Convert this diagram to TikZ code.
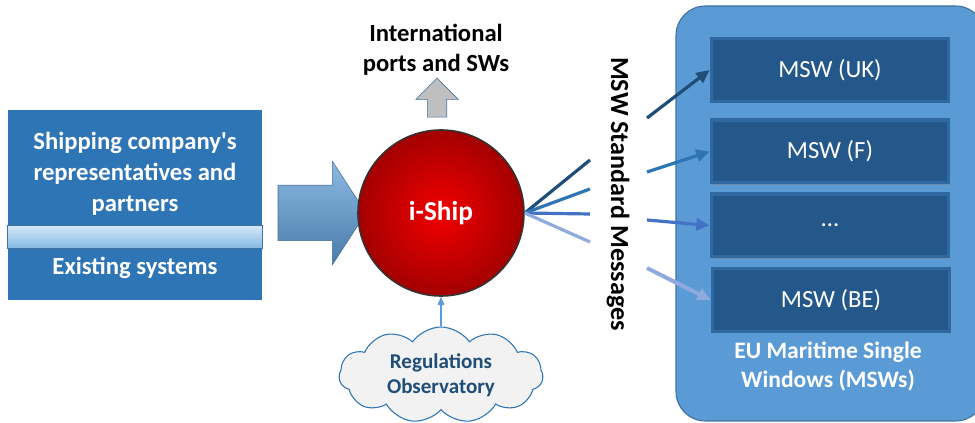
\documentclass[tikz,border=0pt]{standalone}
\usepackage{fontspec}
\setmainfont{Carlito}
\usetikzlibrary{positioning,arrows.meta,shapes.arrows,shapes.symbols,shadows}

\definecolor{partblue}{HTML}{2E75B6}
\definecolor{arrblue}{HTML}{5B9BD5}
\definecolor{edgeblue}{HTML}{41719C}
\definecolor{mswfill}{HTML}{24578A}
\definecolor{mswedge}{HTML}{2F69A0}
\definecolor{shipred}{HTML}{C00000}
\definecolor{navy}{HTML}{1F4E79}
\definecolor{barlight}{HTML}{D5E9F8}
\definecolor{bardark}{HTML}{86B9E3}
\definecolor{lnone}{HTML}{1F4E79}
\definecolor{lntwo}{HTML}{2E75B6}
\definecolor{lnthree}{HTML}{4472C4}
\definecolor{lnfour}{HTML}{8FAADC}

\begin{document}
\begin{tikzpicture}[
  x=0.75pt, y=-0.75pt,
  >={Triangle[length=10pt,width=9pt]},
  every node/.style={font=\bfseries\fontsize{18.5pt}{23.25pt}\selectfont},
  whitetext/.style={text=white, align=center},
  mswbox/.style={rectangle, fill=mswfill, draw=mswedge, line width=2.5pt,
    minimum width=178pt, minimum height=47pt, text=white,
    font=\fontsize{18.5pt}{22pt}\selectfont,
    drop shadow={opacity=0.45, shadow xshift=0pt, shadow yshift=-1.5pt}},
  msgline/.style={line width=2.4pt},
  msgarrow/.style={->, line width=2.4pt}
]
\useasboundingbox (0,0) rectangle (975,423);

% Shipping company box with bar
\fill[partblue] (8,110) rectangle (262,300);
\node[whitetext] (partners) at (135,174) {Shipping company\textquotesingle s\\representatives and\\partners};
\node[rectangle, minimum width=191pt, minimum height=17pt, inner sep=0pt,
  top color=barlight, bottom color=bardark, draw=edgeblue]
  (bar) at (135,236.5) {};
\node[whitetext] (existing) at (135,268) {Existing systems};

% Big arrow into i-Ship
\node[single arrow, single arrow head extend=18pt, single arrow tip angle=114,
  minimum height=66pt, inner xsep=0pt, inner ysep=20.6pt,
  top color=arrblue!70!white, bottom color=arrblue!80!black, draw=edgeblue]
  (bigarrow) at (313,213) {};

% i-Ship circle
\node[circle, minimum size=124.5pt, inner color=red!80!shipred, outer color=shipred!85!black,
  draw=black!80, line width=1.2pt, whitetext,
  font=\bfseries\fontsize{20.5pt}{24pt}\selectfont] (iship) at (441,213) {i-Ship};

% Output to international ports
\node[single arrow, rotate=90, single arrow head extend=8.6pt, minimum height=29.25pt,
  inner xsep=0pt, inner ysep=7.1pt, fill=black!25, draw=edgeblue] (uparrow) at (437,102.5) {};
\node[align=center, font=\bfseries\fontsize{18.5pt}{22.5pt}\selectfont] (intl) at (436,50) {International\\ports and SWs};

% Regulations cloud
\node[cloud, cloud puffs=11, cloud puff arc=110, aspect=2.3, minimum width=153pt,
  minimum height=66pt, fill=black!5, draw=partblue, line width=0.8pt, text=navy,
  align=center, font=\bfseries\fontsize{15.8pt}{19pt}\selectfont] (cloud) at (441,375)
  {Regulations\\Observatory};
\draw[->, >={Triangle[length=6pt,width=5pt]}, arrblue, line width=0.8pt] (cloud.north) -- (iship.south);

% Message label
\node[rotate=-90, font=\bfseries\fontsize{19.6pt}{22pt}\selectfont] (msgs) at (618,194) {MSW Standard Messages};

% EU maritime single windows
\node[rectangle, rounded corners=22pt, fill=arrblue, draw=edgeblue, line width=0.8pt,
  minimum width=231.75pt, minimum height=311.25pt] (euwin) at (830.5,213.5) {};
\node[mswbox] (uk) at (830,70) {MSW (UK)};
\node[mswbox] (fr) at (830,151.5) {MSW (F)};
\node[mswbox] (dots) at (830,225.5) {...};
\node[mswbox] (be) at (831,300) {MSW (BE)};
\node[whitetext, font=\bfseries\fontsize{17.7pt}{21.75pt}\selectfont] (eulabel) at (828,366)
  {EU Maritime Single\\Windows (MSWs)};

% Messages from i-Ship
\coordinate (m1a) at (590,160);
\coordinate (m2a) at (590,189);
\coordinate (m3a) at (590,214);
\coordinate (m4a) at (590,242);
\coordinate (m1b) at (647,118);
\coordinate (m2b) at (647,172);
\coordinate (m3b) at (647,220);
\coordinate (m4b) at (647,268);
\draw[msgline, lnone] (iship.east) -- (m1a);
\draw[msgline, lntwo] (iship.east) -- (m2a);
\draw[msgline, lnthree] (iship.east) -- (m3a);
\draw[msgline, lnfour] (iship.east) -- (m4a);
\draw[msgarrow, lnone] (m1b) -- (uk.west);
\draw[msgarrow, lntwo] (m2b) -- (fr.west);
\draw[msgarrow, lnthree] (m3b) -- (dots.west);
\draw[msgarrow, lnfour, line width=3pt] (m4b) -- (be.west);

\end{tikzpicture}
\end{document}
